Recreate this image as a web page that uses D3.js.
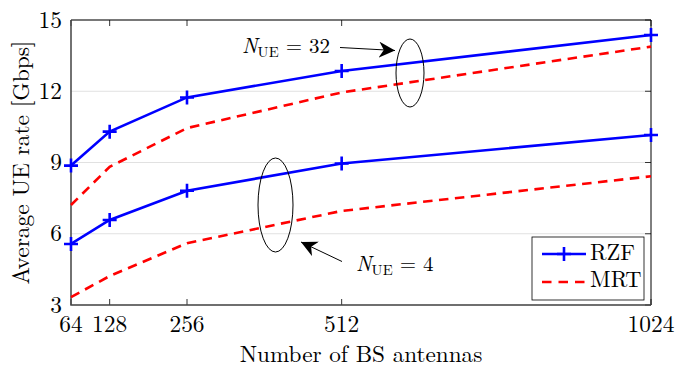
<!DOCTYPE html>
<html>
<head>
<meta charset="utf-8">
<script src="https://cdn.jsdelivr.net/npm/d3@7"></script>
<style>
  body { margin: 0; background: #fff; }
</style>
</head>
<body>
<svg id="chart"></svg>
<script>
// antenna counts on the x axis
const antennas = [64, 128, 256, 512, 1024];
// average UE rate in Gbps
const rzf32 = [8.87, 10.30, 11.74, 12.85, 14.37];
const mrt32 = [7.21, 8.82, 10.45, 11.95, 13.88];
const rzf4 = [5.57, 6.58, 7.81, 8.96, 10.16];
const mrt4 = [3.33, 4.22, 5.60, 6.96, 8.42];
const yTicks = [3, 6, 9, 12, 15];

const serif = "'Latin Modern Roman', 'Liberation Serif', monospace";

const baseWidth = 676;
const baseHeight = 367;
const margin = { top: 20, right: 25, bottom: 62, left: 71 };
const width = baseWidth - margin.left - margin.right;
const height = baseHeight - margin.top - margin.bottom;

const root = d3.select("#chart")
    .attr("width", baseWidth)
    .attr("height", baseHeight);

const svg = root.append("g")
    .attr("transform", `translate(${margin.left},${margin.top})`);

const x = d3.scaleLinear().domain([64, 1024]).range([0, width]);
const y = d3.scaleLinear().domain([3, 15]).range([height, 0]);

// grid
svg.append("g")
    .selectAll("line")
    .data(yTicks)
    .join("line")
    .attr("x1", 0).attr("x2", width)
    .attr("y1", d => y(d)).attr("y2", d => y(d))
    .attr("stroke", "#e1e1e1")
    .attr("stroke-width", 1);

// inner ticks on all four sides
const tickLen = 6;
svg.append("g").selectAll("line").data(antennas).join("line")
    .attr("x1", d => x(d)).attr("x2", d => x(d))
    .attr("y1", height).attr("y2", height - tickLen)
    .attr("stroke", "#333");
svg.append("g").selectAll("line").data(antennas).join("line")
    .attr("x1", d => x(d)).attr("x2", d => x(d))
    .attr("y1", 0).attr("y2", tickLen)
    .attr("stroke", "#333");
svg.append("g").selectAll("line").data(yTicks).join("line")
    .attr("x1", width).attr("x2", width - tickLen)
    .attr("y1", d => y(d)).attr("y2", d => y(d))
    .attr("stroke", "#333");

// top and right border
svg.append("path")
    .attr("d", `M0,0H${width}V${height}`)
    .attr("fill", "none")
    .attr("stroke", "#000")
    .attr("stroke-width", 1);

// left and bottom axes
svg.append("path")
    .attr("d", `M0,0V${height}H${width}`)
    .attr("fill", "none")
    .attr("stroke", "#444")
    .attr("stroke-width", 1.5);

// tick labels
svg.append("g").selectAll("text").data(yTicks).join("text")
    .attr("x", -9)
    .attr("y", d => y(d) + 7.5)
    .attr("text-anchor", "end")
    .attr("font-family", serif)
    .attr("font-size", 23.4)
    .text(d => d);

svg.append("g").selectAll("text").data(antennas).join("text")
    .attr("x", d => x(d))
    .attr("y", height + 27)
    .attr("text-anchor", "middle")
    .attr("font-family", serif)
    .attr("font-size", 23.4)
    .text(d => d);

// axis titles
svg.append("text")
    .attr("x", width / 2)
    .attr("y", height + 56.5)
    .attr("text-anchor", "middle")
    .attr("font-family", serif)
    .attr("font-size", 23.2)
    .text("Number of BS antennas");

svg.append("text")
    .attr("transform", `translate(${-42.5},${height / 2}) rotate(-90)`)
    .attr("text-anchor", "middle")
    .attr("font-family", serif)
    .attr("font-size", 23.4)
    .text("Average UE rate [Gbps]");

// curves
const line = d3.line()
    .x((d, i) => x(antennas[i]))
    .y(d => y(d));

const series = [
    { values: mrt32, color: "#ff0000", dash: "9.5,6.5" },
    { values: mrt4, color: "#ff0000", dash: "9.5,6.5" },
    { values: rzf32, color: "#0000ff", dash: null },
    { values: rzf4, color: "#0000ff", dash: null }
];

svg.append("g").selectAll("path").data(series).join("path")
    .attr("d", d => line(d.values))
    .attr("fill", "none")
    .attr("stroke", d => d.color)
    .attr("stroke-width", 2.6)
    .attr("stroke-dasharray", d => d.dash);

const plus = (g, cx, cy) => {
    g.append("path")
        .attr("d", `M${cx - 7},${cy}H${cx + 7}M${cx},${cy - 7}V${cy + 7}`)
        .attr("stroke", "#0000ff")
        .attr("stroke-width", 2.6)
        .attr("fill", "none");
};

const markers = svg.append("g");
[rzf32, rzf4].forEach(vals => {
    vals.forEach((v, i) => plus(markers, x(antennas[i]), y(v)));
});

// annotations
const note = svg.append("g");

note.append("ellipse")
    .attr("cx", 410 - margin.left).attr("cy", 73 - margin.top)
    .attr("rx", 14).attr("ry", 34)
    .attr("fill", "none").attr("stroke", "#000").attr("stroke-width", 1);

note.append("ellipse")
    .attr("cx", 275.5 - margin.left).attr("cy", 205 - margin.top)
    .attr("rx", 17.5).attr("ry", 47)
    .attr("fill", "none").attr("stroke", "#000").attr("stroke-width", 1);

root.append("defs").append("marker")
    .attr("id", "head")
    .attr("viewBox", "0 0 10 10")
    .attr("refX", 10).attr("refY", 5)
    .attr("markerWidth", 16).attr("markerHeight", 16)
    .attr("markerUnits", "userSpaceOnUse")
    .attr("orient", "auto")
    .append("path")
    .attr("d", "M0,0L10,5L0,10L3,5Z")
    .attr("fill", "#000");

note.append("line")
    .attr("x1", 340 - margin.left).attr("y1", 47.5 - margin.top)
    .attr("x2", 395 - margin.left).attr("y2", 50.5 - margin.top)
    .attr("stroke", "#000").attr("stroke-width", 1)
    .attr("marker-end", "url(#head)");

note.append("line")
    .attr("x1", 342 - margin.left).attr("y1", 261.5 - margin.top)
    .attr("x2", 301 - margin.left).attr("y2", 242 - margin.top)
    .attr("stroke", "#000").attr("stroke-width", 1)
    .attr("marker-end", "url(#head)");

const label = (tx, ty, num) => {
    const t = note.append("text")
        .attr("x", tx - margin.left)
        .attr("y", ty - margin.top)
        .attr("font-family", serif)
        .attr("font-size", 21);
    t.append("tspan").attr("font-style", "italic").text("N");
    t.append("tspan").attr("font-size", 14.7).attr("dy", 4).text("UE");
    t.append("tspan").attr("dy", -4).text(` = ${num}`);
};
label(242, 53, 32);
label(356, 270.5, 4);

// legend
const legend = svg.append("g")
    .attr("transform", `translate(${532 - margin.left},${237 - margin.top})`);

legend.append("rect")
    .attr("width", 112).attr("height", 63)
    .attr("fill", "#fff").attr("stroke", "#000").attr("stroke-width", 0.8);

legend.append("line")
    .attr("x1", 10).attr("x2", 54).attr("y1", 17).attr("y2", 17)
    .attr("stroke", "#0000ff").attr("stroke-width", 2.6);
plus(legend, 32, 17);
legend.append("line")
    .attr("x1", 10).attr("x2", 54).attr("y1", 45).attr("y2", 45)
    .attr("stroke", "#ff0000").attr("stroke-width", 2.6)
    .attr("stroke-dasharray", "9.5,7");

legend.selectAll("text.entry")
    .data(["RZF", "MRT"])
    .join("text")
    .attr("class", "entry")
    .attr("x", 58)
    .attr("y", (d, i) => 22.5 + i * 27.5)
    .attr("font-family", serif)
    .attr("font-size", 22.5)
    .text(d => d);
</script>
</body>
</html>
